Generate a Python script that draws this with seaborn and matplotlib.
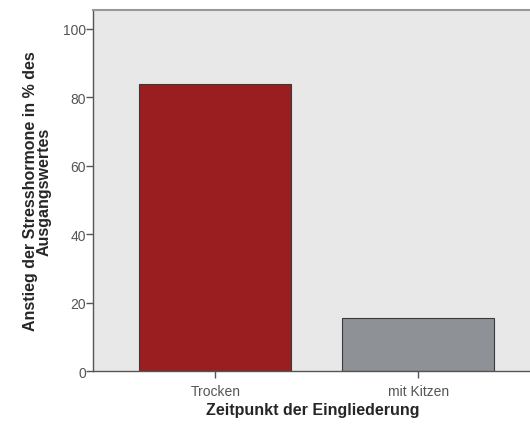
import matplotlib
matplotlib.use("Agg")
import matplotlib.pyplot as plt
import seaborn as sns
import pandas as pd

categories = ["Trocken", "mit Kitzen"]
values = [84, 15.5]
colors = ["#9a1d1f", "#8e9195"]

df = pd.DataFrame({"Zeitpunkt": categories, "Anstieg": values})

sns.set_style("white")
plt.rcParams["font.family"] = ["Liberation Sans", "DejaVu Sans"]

fig = plt.figure(figsize=(5.3, 4.27), dpi=100)
ax = fig.add_axes([0.1755, 0.1288, 0.83, 0.8454])
ax.set_facecolor("#e8e8e8")

sns.barplot(data=df, x="Zeitpunkt", y="Anstieg", hue="Zeitpunkt", palette=colors,
            saturation=1, width=0.75, edgecolor="#3a3a3a", linewidth=0.8,
            legend=False, ax=ax)

ax.set_ylim(0, 105.5)
ax.set_xlim(-0.603, 1.566)
ax.set_yticks([0, 20, 40, 60, 80, 100])

ax.tick_params(axis="both", direction="out", length=5, width=1, color="#555555",
               labelsize=10, labelcolor="#555555", bottom=True, left=True)
ax.tick_params(axis="x", pad=4)
ax.tick_params(axis="y", pad=0)

for side in ["left", "bottom"]:
    ax.spines[side].set_color("#555555")
    ax.spines[side].set_linewidth(1)
ax.spines["top"].set_color("#999999")
ax.spines["top"].set_linewidth(1.5)
ax.spines["right"].set_visible(False)

ax.set_xlabel("Zeitpunkt der Eingliederung", fontsize=11.5, fontweight="bold", labelpad=3)
ax.set_ylabel("Anstieg der Stresshormone in % des\nAusgangswertes", fontsize=11.5,
              fontweight="bold", labelpad=8, linespacing=0.9)

fig.savefig("out.png", dpi=100)
